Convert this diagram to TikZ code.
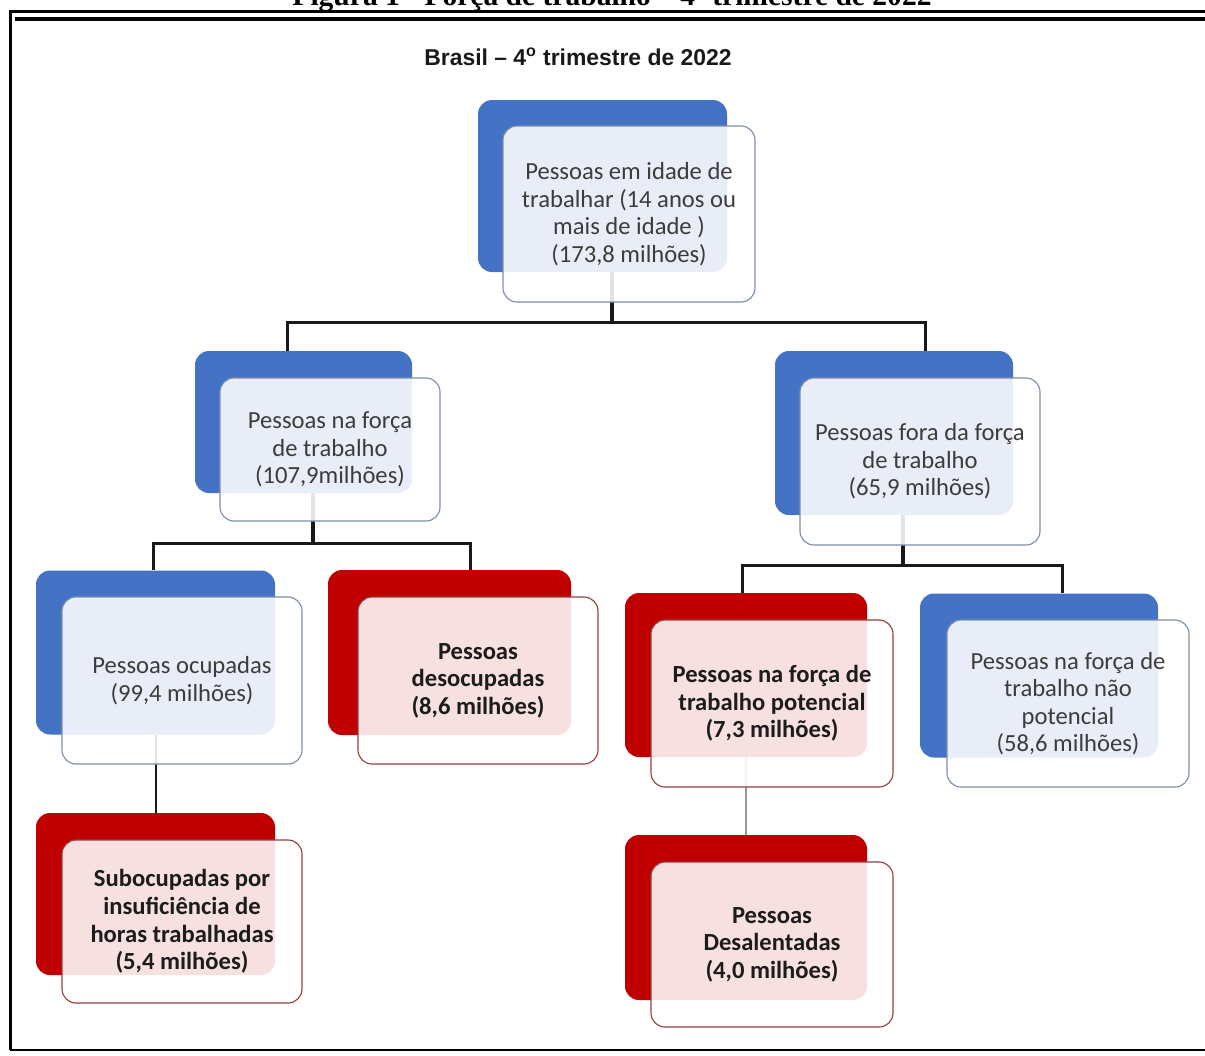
\documentclass[tikz,border=0pt]{standalone}
\usepackage{fontspec}
\setmainfont{Carlito}
\newfontfamily\arialfont{Liberation Sans}
\newfontfamily\timesfont{Liberation Serif}
\usetikzlibrary{calc}
\newlength\px
\setlength\px{0.025cm}
\definecolor{cblue}{RGB}{68,114,196}
\definecolor{cred}{RGB}{192,0,0}
\definecolor{bblue}{RGB}{125,142,170}
\definecolor{bred}{RGB}{150,62,62}
\definecolor{tgray}{RGB}{60,60,60}
\definecolor{tdark}{RGB}{28,28,28}
\newcommand\boxfont{\fontsize{17.5pt}{19.6pt}\selectfont}

\begin{document}
\begin{tikzpicture}[x=\px, y=-\px,
  backblue/.style={fill=cblue, rounded corners=14\px, minimum width=240\px, minimum height=164\px, inner sep=0pt},
  backred/.style={backblue, fill=cred},
  frontblue/.style={draw=bblue, line width=0.8pt, fill=white, fill opacity=0.88, text opacity=1,
    rounded corners=14\px, minimum width=242\px, minimum height=167\px, inner sep=2pt,
    align=center, font=\boxfont, text=tgray},
  frontred/.style={frontblue, draw=bred, font=\boxfont\bfseries, text=tdark},
  conn/.style={draw=black!90, line width=3\px},
  trunk/.style={draw=black!90, line width=4\px},
  leaf/.style={line width=2\px}]
\useasboundingbox (0,0) rectangle (1205,1055);

% frame and caption
\node[anchor=base, font=\timesfont\bfseries\fontsize{21pt}{24pt}\selectfont] (caption) at (612,5) {Figura 1 - Força de trabalho – 4º trimestre de 2022};
\draw[line width=3\px] (10,1050) -- (10,11) -- (1215,11);
\draw[line width=4.5\px] (15,19) -- (1215,19);
\draw[line width=2.5\px] (10,1050) -- (1215,1050);
\node[anchor=base, font=\arialfont\bfseries\fontsize{16.3pt}{19pt}\selectfont, text=black!90] (title) at (578,65) {Brasil – 4\textsuperscript{o} trimestre de 2022};

% back boxes
\node[backblue, minimum width=249\px, minimum height=172\px] (idade-b) at (602.5,186) {};
\node[backblue, minimum width=217\px, minimum height=142\px] (forca-b) at (303.5,422) {};
\node[backblue, minimum width=238\px] (fora-b) at (894,433) {};
\node[backblue, minimum width=239\px] (ocup-b) at (155.5,652.5) {};
\node[backred, minimum width=243\px, minimum height=165\px] (desoc-b) at (449.5,652.5) {};
\node[backred, minimum width=242\px] (pot-b) at (746,675) {};
\node[backblue, minimum width=238\px] (naopot-b) at (1039,675.5) {};
\node[backred, minimum width=239\px, minimum height=162\px] (subocup-b) at (155.5,894) {};
\node[backred, minimum width=242\px, minimum height=165\px] (desal-b) at (746,917.5) {};

% connectors
\draw[trunk] ([xshift=9\px]idade-b.south) -- ++(0,51);
\draw[conn] ([xshift=-16\px]forca-b.north) -- ++(0,-28) -| ([xshift=31\px]fora-b.north);
\draw[trunk] ([xshift=9\px]forca-b.south) -- ++(0,51);
\draw[conn] ([xshift=-2\px]ocup-b.north) -- ++(0,-27) -| ([xshift=21\px]desoc-b.north);
\draw[trunk] ([xshift=9\px]fora-b.south) -- ++(0,51);
\draw[conn] ([xshift=-4\px]pot-b.north) -- ++(0,-27) -| ([xshift=23\px]naopot-b.north);
\draw[leaf, black!90] (ocup-b.south) -- (subocup-b.north);
\draw[leaf, black!40] (pot-b.south) -- (desal-b.north);

% front boxes
\node[frontblue, minimum width=252\px, minimum height=176\px] (idade) at (629,214) {Pessoas em idade de\\trabalhar (14 anos ou\\mais de idade )\\(173,8 milhões)};
\node[frontblue, minimum width=220\px, minimum height=143\px] (forca) at (330,449.5) {Pessoas na força\\de trabalho\\(107,9milhões)};
\node[frontblue, minimum width=240\px] (fora) at (920,461.5) {Pessoas fora da força\\de trabalho\\(65,9 milhões)};
\node[frontblue, minimum width=240\px] (ocup) at (182,680.5) {Pessoas ocupadas\\(99,4 milhões)};
\node[frontred, minimum width=240\px] (desoc) at (478,680.5) {Pessoas\\desocupadas\\(8,6 milhões)};
\node[frontred] (pot) at (772,703.5) {Pessoas na força de\\trabalho potencial\\(7,3 milhões)};
\node[frontblue] (naopot) at (1068,703.5) {Pessoas na força de\\trabalho não\\potencial\\(58,6 milhões)};
\node[frontred, minimum width=240\px, minimum height=163\px] (subocup) at (182,921.5) {Subocupadas por\\insuficiência de\\horas trabalhadas\\(5,4 milhões)};
\node[frontred, minimum height=165\px] (desal) at (772,944.5) {Pessoas\\Desalentadas\\(4,0 milhões)};
\end{tikzpicture}
\end{document}
